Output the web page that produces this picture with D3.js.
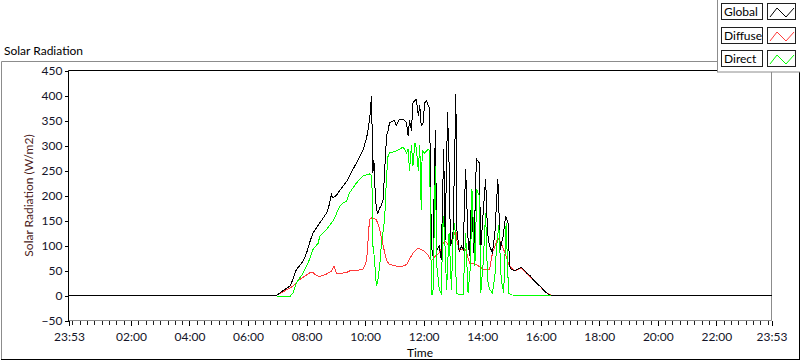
<!DOCTYPE html>
<html><head><meta charset="utf-8">
<script src="https://cdn.jsdelivr.net/npm/d3@7"></script>
<style>
body{margin:0;background:#fff}
svg{display:block}
text{font-family:Lato,"Noto Sans",sans-serif;font-size:12px}
</style>
</head><body>
<svg id="c" width="800" height="361"></svg>
<script>
const chartTitle = "Solar Radiation";
const yAxisTitle = "Solar Radiation (W/m2)";
const xAxisTitle = "Time";
const seriesNames = ["Global", "Diffuse", "Direct"];
const seriesColors = ["#000000", "#ff3b3b", "#00ff00"];
const xTickTimes = ["-23:53","02:00","04:00","06:00","08:00","10:00","12:00","14:00","16:00","18:00","20:00","22:00","23:53"];
const xTickLabels = ["23:53","02:00","04:00","06:00","08:00","10:00","12:00","14:00","16:00","18:00","20:00","22:00","23:53"];
const yTickValues = [-50,0,50,100,150,200,250,300,350,400,450];

const globalSeries = [["-23:53",0],["06:58",0],["07:05",5],["07:15",12],["07:26",19],["07:32",32],["07:39",52],["07:46",60],["07:53",69],["08:00",85],["08:06",105],["08:13",125],["08:20",135],["08:27",145],["08:34",155],["08:41",165],["08:46",180],["08:51",202],["08:54",195],["09:01",200],["09:08",210],["09:15",219],["09:22",228],["09:28",239],["09:35",252],["09:42",265],["09:49",278],["09:56",292],["10:03",315],["10:06",332],["10:10",360],["10:13",399],["10:14",350],["10:16",246],["10:18",270],["10:20",220],["10:23",172],["10:26",165],["10:30",175],["10:33",180],["10:37",192],["10:40",250],["10:44",319],["10:47",330],["10:50",345],["10:55",348],["11:00",350],["11:04",340],["11:10",352],["11:18",353],["11:25",345],["11:28",320],["11:31",350],["11:35",330],["11:38",385],["11:42",390],["11:45",392],["11:49",360],["11:52",380],["11:55",340],["11:59",345],["12:02",385],["12:06",390],["12:09",380],["12:12",375],["12:16",99],["12:19",80],["12:24",330],["12:27",90],["12:32",99],["12:36",72],["12:41",293],["12:44",112],["12:49",367],["12:52",265],["12:55",99],["13:00",119],["13:04",299],["13:06",402],["13:08",132],["13:13",87],["13:17",99],["13:21",92],["13:26",253],["13:31",112],["13:34",79],["13:38",199],["13:43",85],["13:48",273],["13:54",265],["13:57",92],["14:02",165],["14:07",233],["14:11",125],["14:15",99],["14:21",85],["14:26",125],["14:32",233],["14:37",92],["14:43",119],["14:48",159],["14:53",145],["14:56",59],["15:00",52],["15:07",50],["15:14",53],["15:20",56],["15:25",52],["15:31",45],["15:38",40],["15:44",32],["15:51",25],["15:58",19],["16:05",12],["16:11",6],["16:17",2],["16:22",0],["23:53",0]];

const diffuseSeries = [["06:58",0],["07:26",15],["07:32",19],["07:46",32],["08:06",45],["08:13",46],["08:20",40],["08:27",38],["08:41",43],["08:51",49],["08:56",59],["09:01",45],["09:15",45],["09:22",46],["09:28",49],["09:42",50],["09:56",53],["10:03",69],["10:09",152],["10:13",155],["10:23",152],["10:30",132],["10:37",99],["10:44",70],["10:50",62],["11:04",59],["11:18",59],["11:25",62],["11:38",85],["11:49",95],["11:59",90],["12:09",81],["12:16",69],["12:24",79],["12:32",85],["12:43",110],["12:52",100],["13:06",130],["13:08",110],["13:13",92],["13:26",92],["13:34",65],["13:48",62],["14:02",53],["14:15",52],["14:21",85],["14:32",115],["14:39",105],["14:49",79],["14:56",59],["15:07",49],["15:20",55],["15:31",45],["15:44",32],["15:58",19],["16:11",6],["16:22",0]];

const directSeries = [["06:58",-1],["07:26",-2],["07:32",5],["07:39",25],["07:46",35],["07:53",45],["08:06",72],["08:13",92],["08:20",100],["08:24",105],["08:27",119],["08:41",132],["08:51",145],["08:56",152],["09:08",179],["09:15",185],["09:22",189],["09:28",205],["09:42",225],["09:56",239],["10:09",243],["10:13",240],["10:14",225],["10:16",99],["10:18",85],["10:20",60],["10:23",19],["10:26",30],["10:30",60],["10:33",99],["10:37",130],["10:40",152],["10:44",240],["10:47",279],["10:50",285],["11:04",289],["11:18",297],["11:25",285],["11:28",292],["11:31",250],["11:35",300],["11:38",260],["11:42",305],["11:45",295],["11:49",250],["11:52",300],["11:55",172],["11:57",290],["12:02",285],["12:09",292],["12:12",290],["12:16",3],["12:19",2],["12:24",259],["12:27",59],["12:32",12],["12:36",5],["12:40",159],["12:43",119],["12:47",12],["12:52",125],["12:57",12],["13:00",112],["13:04",145],["13:07",5],["13:13",2],["13:21",2],["13:26",125],["13:31",5],["13:36",59],["13:39",212],["13:45",59],["13:49",212],["13:54",199],["13:57",5],["14:02",65],["14:07",165],["14:11",32],["14:15",12],["14:21",5],["14:26",39],["14:29",92],["14:34",140],["14:39",32],["14:44",5],["14:49",145],["14:54",5],["15:00",1],["16:22",0]];

// "-HH:MM" means the previous day
function toMin(s){
  const neg = s[0] === "-";
  const p = (neg ? s.slice(1) : s).split(":");
  const m = (+p[0]) * 60 + (+p[1]);
  return neg ? m - 1440 : m;
}

const svg = d3.select("#c");
const L = 68.5, R = 771.5, T = 70.5, B = 320.5;

const x = d3.scaleLinear().domain([toMin("-23:53"), toMin("23:53")]).range([69, 771.5]);
const y = d3.scaleLinear().domain([-50, 450]).range([B, T]);

// outer frame
svg.append("line").attr("x1",1.5).attr("x2",1.5).attr("y1",61.5).attr("y2",359.5).attr("stroke","#8c8c8c");
svg.append("line").attr("x1",1.5).attr("x2",718).attr("y1",61.5).attr("y2",61.5).attr("stroke","#8c8c8c");
svg.append("line").attr("x1",1).attr("x2",800).attr("y1",359.5).attr("y2",359.5).attr("stroke","#000");
svg.append("line").attr("x1",799.5).attr("x2",799.5).attr("y1",72).attr("y2",360).attr("stroke","#000");

svg.append("text").attr("x",4).attr("y",55).attr("fill","#000").text(chartTitle);

// plot area borders
svg.append("line").attr("x1",L).attr("x2",R).attr("y1",B).attr("y2",B).attr("stroke","#8c8c8c");
svg.append("line").attr("x1",R).attr("x2",R).attr("y1",T).attr("y2",B).attr("stroke","#8c8c8c");
svg.append("line").attr("x1",L).attr("x2",R).attr("y1",T).attr("y2",T).attr("stroke","#000");
svg.append("line").attr("x1",L).attr("x2",L).attr("y1",T).attr("y2",B+0.5).attr("stroke","#000");

// y axis
const yAxis = d3.axisLeft(y).tickValues(yTickValues).tickSize(4).tickPadding(2).tickFormat(d3.format("d"));
const gy = svg.append("g").attr("transform",`translate(${L},0)`).call(yAxis);
gy.select(".domain").remove();
gy.selectAll("line").attr("stroke","#000").attr("shape-rendering","crispEdges");
gy.selectAll("text").attr("fill","#141428").style("font-family","Lato").style("font-size","12px");

// x axis major + minor ticks
const minorTicks = d3.range(0, 1440, 15);
const gxm = svg.append("g").attr("transform",`translate(0,${B})`)
  .call(d3.axisBottom(x).tickValues([toMin("-23:53")].concat(minorTicks, [toMin("23:53")])).tickSize(4).tickFormat(""));
gxm.select(".domain").remove();
gxm.selectAll("line").attr("stroke","#202020").attr("shape-rendering","crispEdges");

const gx = svg.append("g").attr("transform",`translate(0,${B})`)
  .call(d3.axisBottom(x).tickValues(xTickTimes.map(toMin)).tickSize(5).tickPadding(7)
    .tickFormat((d,i) => xTickLabels[i]));
gx.select(".domain").remove();
gx.selectAll("line").attr("stroke","#000").attr("shape-rendering","crispEdges");
gx.selectAll("text").attr("fill","#141428").style("font-family","Lato").style("font-size","12px");

svg.append("text").attr("transform",`translate(30,${(T+B)/2}) rotate(-90)`)
  .attr("text-anchor","middle").attr("dominant-baseline","middle").attr("fill","#4a1a1a").text(yAxisTitle);
svg.append("text").attr("x",(L+R)/2).attr("y",357).attr("text-anchor","middle").attr("fill","#000").text(xAxisTitle);

// data lines (diffuse under global, direct on top)
const line = d3.line().x(d => x(toMin(d[0]))).y(d => y(d[1]));
const drawOrder = [1, 0, 2];
const allSeries = [globalSeries, diffuseSeries, directSeries];
drawOrder.forEach(i => {
  svg.append("path").datum(allSeries[i]).attr("d", line).attr("fill","none")
    .attr("stroke", seriesColors[i]).attr("stroke-width",1).attr("shape-rendering","crispEdges");
});

// legend
const lg = svg.append("g");
lg.append("rect").attr("x",717.5).attr("y",-1).attr("width",84).attr("height",73).attr("fill","#fff").attr("stroke","#8c8c8c");
const rowY = [3, 27, 50];
seriesNames.forEach((n, i) => {
  const ry = rowY[i];
  lg.append("rect").attr("x",721.5).attr("y",ry+0.5).attr("width",41).attr("height",16).attr("fill","#fff").attr("stroke","#202020");
  lg.append("text").attr("x",724).attr("y",ry+13).attr("fill","#000").text(n);
  lg.append("rect").attr("x",767.5).attr("y",ry+0.5).attr("width",28).attr("height",16).attr("fill","#fff").attr("stroke","#202020");
  lg.append("path").attr("d",`M770,${ry+14}L777,${ry+5}L786,${ry+14}L794,${ry+5}`)
    .attr("fill","none").attr("stroke",seriesColors[i]).attr("stroke-width",1);
});
</script>
</body></html>
